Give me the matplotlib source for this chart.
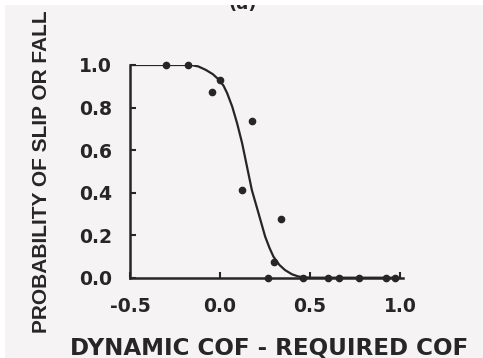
import matplotlib
matplotlib.use('Agg')
import matplotlib.pyplot as plt
from matplotlib.patches import Rectangle

obs_x = [-0.30, -0.18, 0.00, -0.045, 0.18, 0.12, 0.34, 0.30, 0.265, 0.46, 0.60, 0.66, 0.77, 0.92, 0.97]
obs_y = [1.00, 1.00, 0.93, 0.875, 0.737, 0.41, 0.275, 0.075, 0.0, 0.0, 0.0, 0.0, 0.0, 0.0, 0.0]

# fitted curve
curve_x = [-0.5, -0.16, -0.12, -0.079, -0.04, -0.005, 0.02, 0.04, 0.068, 0.095, 0.123, 0.15, 0.177,
           0.214, 0.251, 0.275, 0.297, 0.33, 0.361, 0.40, 0.434, 0.47, 0.507, 0.98]
curve_y = [1.0, 1.0, 0.993, 0.977, 0.957, 0.93, 0.902, 0.867, 0.804, 0.726, 0.632, 0.522, 0.412,
           0.303, 0.193, 0.14, 0.099, 0.06, 0.036, 0.016, 0.006, 0.002, 0.0, 0.0]

xticks = [-0.5, 0.0, 0.5, 1.0]
yticks = [0.0, 0.2, 0.4, 0.6, 0.8, 1.0]

plt.rcParams['font.family'] = ['DejaVu Sans']
ink = '#262626'
paper = '#f5f3f3'

fig = plt.figure(figsize=(4.83, 3.58), dpi=100, facecolor=paper)
# x from -0.5 to 1.015 at 180 px per unit
ax = fig.add_axes([130 / 483, 80.3 / 358, 272.7 / 483, 212.7 / 358])
ax.set_facecolor(paper)

ax.plot(curve_x, curve_y, color=ink, lw=1.6, zorder=3)
ax.plot(obs_x, obs_y, 'o', color=ink, ms=4.5, zorder=4, clip_on=False)

ax.set_xlim(-0.5, 1.015)
ax.set_ylim(0.0, 1.0)
ax.set_xticks(xticks)
ax.set_yticks(yticks)
ax.set_xticklabels(['%.1f' % v for v in xticks], fontsize=13.5, fontweight='bold', color=ink)
ax.set_yticklabels(['%.1f' % v for v in yticks], fontsize=13.5, fontweight='bold', color=ink)
ax.tick_params(axis='x', direction='in', length=4, width=1.5, pad=14, colors=ink)
ax.tick_params(axis='y', direction='in', length=4, width=1.5, pad=13, colors=ink)

for s in ['top', 'right']:
    ax.spines[s].set_visible(False)
for s in ['left', 'bottom']:
    ax.spines[s].set_linewidth(1.8)
    ax.spines[s].set_color(ink)

fig.text(269 / 483, 1 - 348 / 358, 'DYNAMIC COF - REQUIRED COF', ha='center', va='center',
         fontsize=16.6, fontweight='bold', color=ink)
fig.text(42 / 483, 1 - 172 / 358, 'PROBABILITY OF SLIP OR FALL', ha='center', va='center',
         rotation=90, fontsize=15, fontweight='bold', color=ink, family='Liberation Sans')
# panel label, cut off at the top of the scan
fig.text(243 / 483, 1 - 13 / 358, '(a)', ha='center', va='bottom', fontsize=13,
         fontweight='bold', color=ink)
# white scan border along top and left
fig.add_artist(Rectangle((0, 1 - 5 / 358), 1, 5 / 358, transform=fig.transFigure,
                         facecolor='white', edgecolor='none', zorder=10))
fig.add_artist(Rectangle((0, 0), 5 / 483, 1, transform=fig.transFigure,
                         facecolor='white', edgecolor='none', zorder=10))

fig.savefig('out.png', dpi=100, facecolor=fig.get_facecolor())
